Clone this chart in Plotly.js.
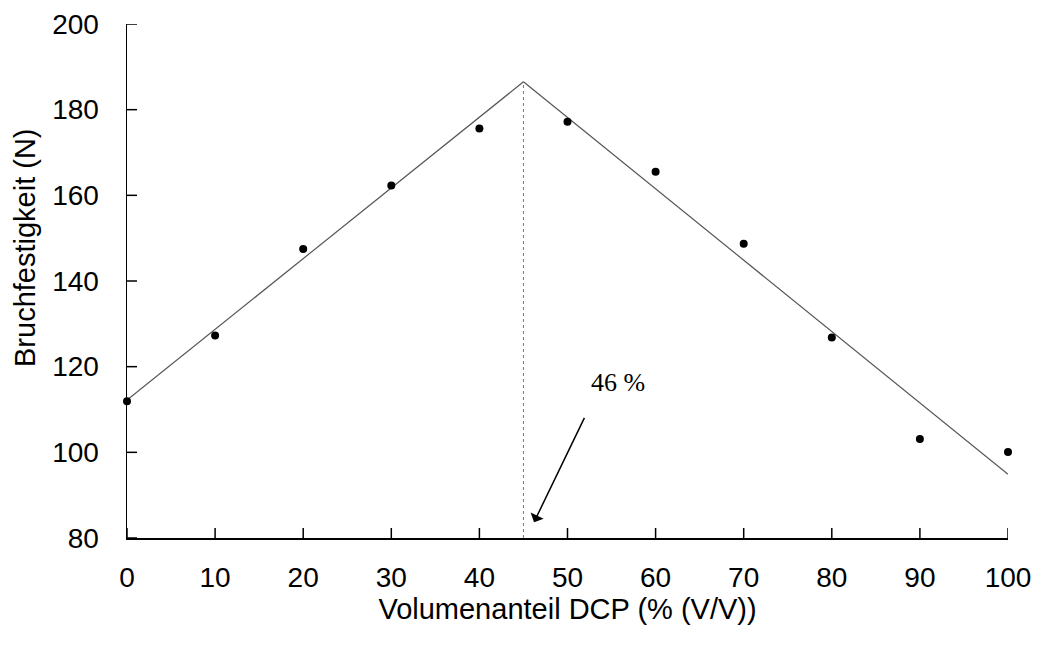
<!DOCTYPE html>
<html>
<head>
<meta charset="utf-8">
<script src="https://cdn.plot.ly/plotly-3.0.1.min.js"></script>
<style>html,body{margin:0;padding:0;background:#fff;}#chart{width:1039px;height:645px;}</style>
</head>
<body>
<div id="chart"></div>
<script>
// Measured data points
const volumeDCP = [0, 10, 20, 30, 40, 50, 60, 70, 80, 90, 100];
const strength = [111.9, 127.3, 147.5, 162.3, 175.6, 177.2, 165.5, 148.7, 126.8, 103.1, 100.1];
// Fitted lines (two linear segments meeting at the breakpoint)
const fitLeftX = [0, 45];
const fitLeftY = [112.2, 186.5];
const fitRightX = [45, 100];
const fitRightY = [186.5, 94.9];
// Breakpoint marker line
const breakX = [45, 45];
const breakY = [80, 186.5];
// Axis ticks
const xTicks = [0, 10, 20, 30, 40, 50, 60, 70, 80, 90, 100];
const yTicks = [80, 100, 120, 140, 160, 180, 200];
// Annotation
const annText = "46 %";
const annPos = [55.7, 116.3];
const arrowHead = [46.2, 83.7];
const arrowTail = [52.0, 108.4];

const font = "Liberation Sans, Arial, sans-serif";

const traces = [
  {x: breakX, y: breakY, mode: 'lines', line: {color: '#777', width: 1, dash: 'dot'}, hoverinfo: 'skip', showlegend: false},
  {x: fitLeftX, y: fitLeftY, mode: 'lines', line: {color: '#555', width: 1.2}, showlegend: false},
  {x: fitRightX, y: fitRightY, mode: 'lines', line: {color: '#555', width: 1.2}, showlegend: false},
  {x: volumeDCP, y: strength, mode: 'markers', marker: {color: '#000', size: 8}, cliponaxis: false, showlegend: false}
];

// Inside tick marks built from the tick arrays (pixel-length shapes anchored on the axes)
const tickShapes = [];
xTicks.forEach(v => tickShapes.push({type: 'line', xref: 'x', yref: 'paper', ysizemode: 'pixel', yanchor: 0,
  x0: v, x1: v, y0: 0, y1: 10, line: {color: '#000', width: 1.5}}));
yTicks.forEach(v => tickShapes.push({type: 'line', xref: 'paper', yref: 'y', xsizemode: 'pixel', xanchor: 0,
  x0: 0, x1: 10, y0: v, y1: v, line: {color: '#000', width: 1.5}}));

const layout = {
  width: 1039, height: 645,
  margin: {l: 127, r: 31, t: 24, b: 107},
  paper_bgcolor: '#fff', plot_bgcolor: '#fff',
  font: {family: font, color: '#000'},
  showlegend: false,
  shapes: tickShapes,
  xaxis: {
    range: [0, 100], tickmode: 'array', tickvals: xTicks, ticktext: xTicks.map(String),
    showgrid: false, zeroline: false, showline: true, linecolor: '#000', linewidth: 1.5,
    ticks: '', tickfont: {size: 28, family: font, color: '#000'}, ticklabelstandoff: 14,
    title: {text: 'Volumenanteil DCP (% (V/V))', font: {size: 29, family: font, color: '#000'}, standoff: 4}
  },
  yaxis: {
    range: [80, 200], tickmode: 'array', tickvals: yTicks, ticktext: yTicks.map(String),
    showgrid: false, zeroline: false, showline: true, linecolor: '#000', linewidth: 1.5,
    ticks: '', tickfont: {size: 28, family: font, color: '#000'}, ticklabelstandoff: 21
  },
  annotations: [
    {x: annPos[0], y: annPos[1], xref: 'x', yref: 'y', text: annText, showarrow: false,
     font: {family: 'Liberation Serif, Times New Roman, serif', size: 26, color: '#000'}},
    {x: arrowHead[0], y: arrowHead[1], ax: arrowTail[0], ay: arrowTail[1], xref: 'x', yref: 'y', axref: 'x', ayref: 'y',
     text: '', showarrow: true, arrowhead: 1, arrowsize: 1.6, arrowwidth: 1.5, arrowcolor: '#000'},
    {x: 0, y: 0, xref: 'paper', yref: 'paper', text: 'Bruchfestigkeit (N)', showarrow: false, textangle: -90,
     font: {family: font, size: 29, color: '#000'}, xanchor: 'center', yanchor: 'middle'}
  ]
};
// Place y title in pixel coordinates via paper fractions
layout.annotations[2].x = (25 - 127) / (1039 - 127 - 31);
layout.annotations[2].y = 1 - (248 - 24) / (645 - 24 - 107);

Plotly.newPlot('chart', traces, layout, {displayModeBar: false, staticPlot: true});
</script>
</body>
</html>
